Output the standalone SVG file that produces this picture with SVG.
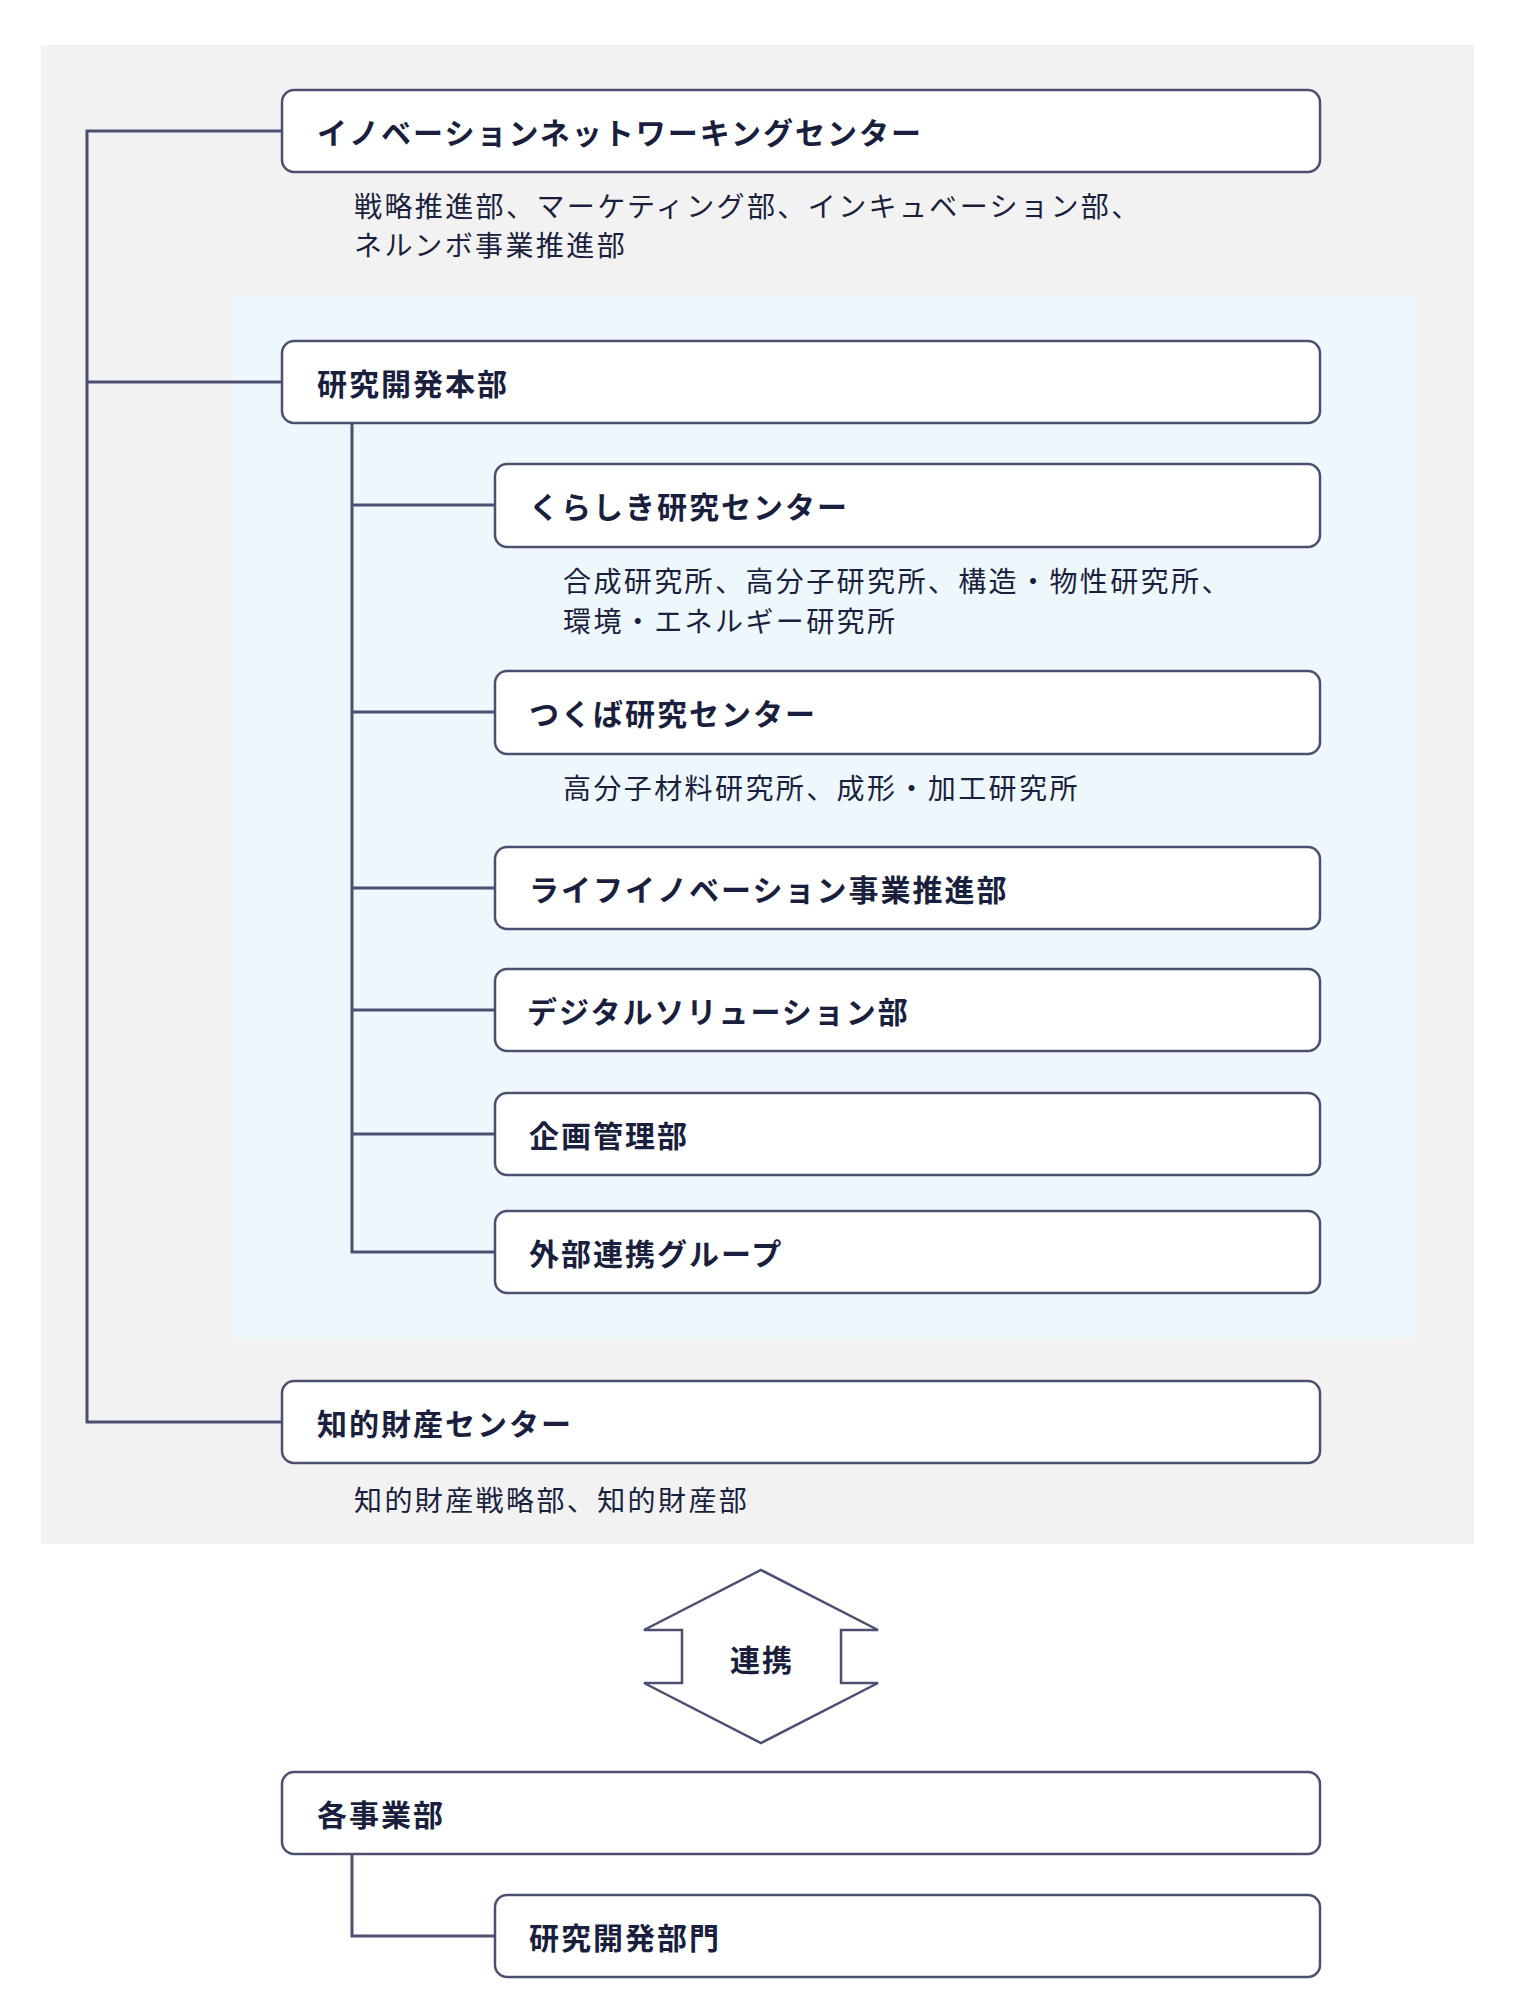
<svg xmlns="http://www.w3.org/2000/svg" width="1516" height="2000" viewBox="0 0 1516 2000">
<style>
.b{fill:#fff;stroke:#4b5070;stroke-width:2.5}
.t{font-family:"Noto Sans CJK JP",sans-serif;font-weight:700;font-size:30px;letter-spacing:2px;fill:#1a1f3d;dominant-baseline:central}
.s{font-family:"Noto Sans CJK JP",sans-serif;font-size:28px;letter-spacing:2.4px;fill:#1a1f3d;dominant-baseline:central}
.c{fill:none;stroke:#4b5070;stroke-width:3}
</style>
<rect width="1516" height="2000" fill="#fff"/>
<rect x="41" y="45" width="1433" height="1499" fill="#f2f2f2"/>
<rect x="233" y="296" width="1182" height="1042" fill="#eef8fc"/>
<g id="connectors">
<path class="c" d="M282 131H87V1422H282M87 382H282"/>
<path class="c" d="M352 423V1252H495M352 505H495M352 712H495M352 888H495M352 1010H495M352 1134H495"/>
<path class="c" d="M352 1854V1936H495"/>
</g>
<g id="n1"><rect class="b" x="282" y="90" width="1038" height="82" rx="12"/><text class="t" x="317" y="131">イノベーションネットワーキングセンター</text>
<text class="s" x="354" y="205">戦略推進部、マーケティング部、インキュベーション部、</text><text class="s" x="354" y="244">ネルンボ事業推進部</text></g>
<g id="n2"><rect class="b" x="282" y="341" width="1038" height="82" rx="12"/><text class="t" x="317" y="382">研究開発本部</text></g>
<g id="n3"><rect class="b" x="495" y="464" width="825" height="83" rx="12"/><text class="t" x="529" y="505">くらしき研究センター</text>
<text class="s" x="563" y="580">合成研究所、高分子研究所、構造・物性研究所、</text><text class="s" x="563" y="620">環境・エネルギー研究所</text></g>
<g id="n4"><rect class="b" x="495" y="671" width="825" height="83" rx="12"/><text class="t" x="529" y="712">つくば研究センター</text>
<text class="s" x="563" y="787">高分子材料研究所、成形・加工研究所</text></g>
<g id="n5"><rect class="b" x="495" y="847" width="825" height="82" rx="12"/><text class="t" x="529" y="888">ライフイノベーション事業推進部</text></g>
<g id="n6"><rect class="b" x="495" y="969" width="825" height="82" rx="12"/><text class="t" x="527" y="1010">デジタルソリューション部</text></g>
<g id="n7"><rect class="b" x="495" y="1093" width="825" height="82" rx="12"/><text class="t" x="529" y="1134">企画管理部</text></g>
<g id="n8"><rect class="b" x="495" y="1211" width="825" height="82" rx="12"/><text class="t" x="529" y="1252">外部連携グループ</text></g>
<g id="n9"><rect class="b" x="282" y="1381" width="1038" height="82" rx="12"/><text class="t" x="317" y="1422">知的財産センター</text>
<text class="s" x="354" y="1499">知的財産戦略部、知的財産部</text></g>
<g id="arrow"><path class="b" d="M761 1570L878 1630H841V1683H878L761 1743L644 1683H682V1630H644Z"/><text class="t" x="762" y="1658" text-anchor="middle">連携</text></g>
<g id="n10"><rect class="b" x="282" y="1772" width="1038" height="82" rx="12"/><text class="t" x="317" y="1813">各事業部</text></g>
<g id="n11"><rect class="b" x="495" y="1895" width="825" height="82" rx="12"/><text class="t" x="529" y="1936">研究開発部門</text></g>
</svg>
